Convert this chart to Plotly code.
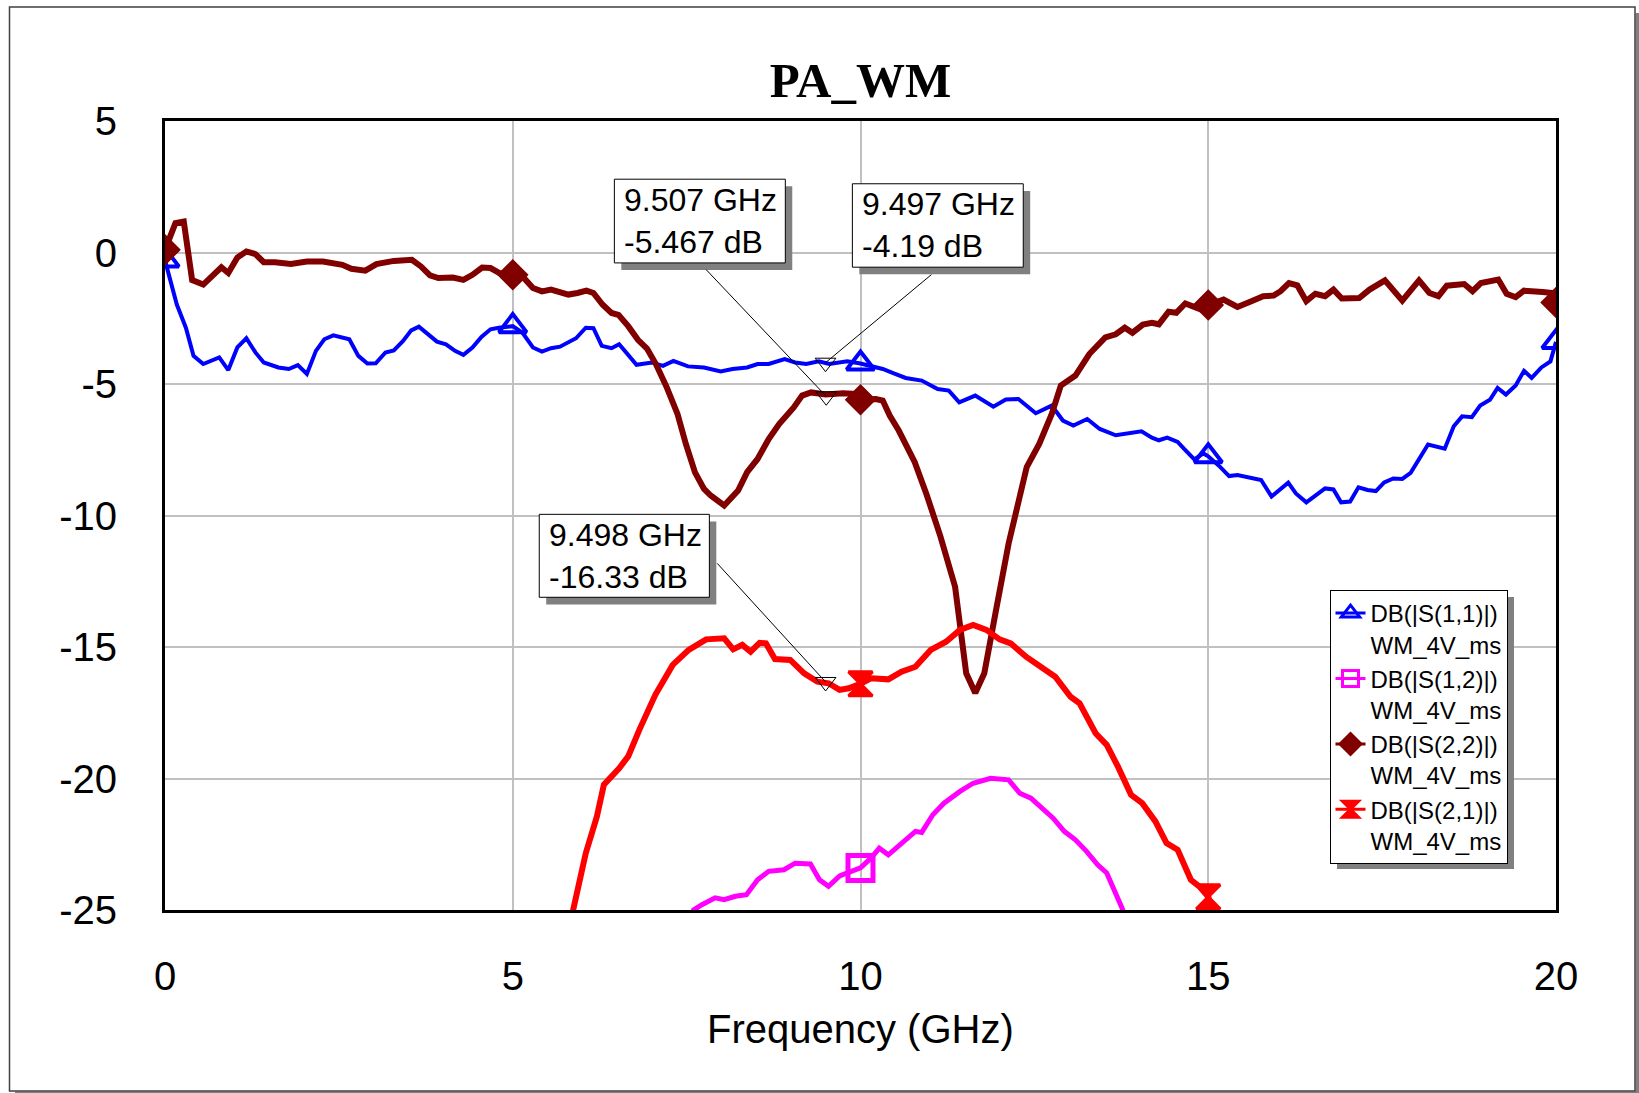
import plotly.graph_objects as go

# ---------------- data ----------------
s11_f = [0.0, 0.17, 0.30, 0.41, 0.55, 0.78, 0.91, 1.04, 1.17, 1.30, 1.42, 1.63, 1.78, 1.91, 2.04, 2.17, 2.29, 2.42,
         2.65, 2.78, 2.91, 3.03, 3.17, 3.29, 3.42, 3.54, 3.65, 3.78, 3.91, 4.04, 4.17, 4.29, 4.42, 4.55, 4.68, 4.80,
         5.0, 5.14, 5.29, 5.42, 5.55, 5.68, 5.91, 6.05, 6.16, 6.28, 6.42, 6.53, 6.66, 6.78, 7.0, 7.16, 7.31, 7.52,
         7.75, 7.99, 8.16, 8.37, 8.52, 8.68, 8.91, 9.06, 9.22, 9.40, 9.55, 9.81, 10.0, 10.32, 10.47, 10.65, 10.88,
         11.11, 11.27, 11.42, 11.65, 11.91, 12.09, 12.27, 12.52, 12.75, 12.91, 13.06, 13.26, 13.44, 13.67, 13.91,
         14.04, 14.19, 14.29, 14.41, 14.56, 14.65, 14.80, 14.93, 15.0, 15.17, 15.30, 15.42, 15.57, 15.76, 15.91,
         16.15, 16.26, 16.41, 16.68, 16.80, 16.91, 17.04, 17.16, 17.29, 17.41, 17.53, 17.66, 17.79, 17.91, 18.16,
         18.40, 18.53, 18.65, 18.79, 18.91, 19.05, 19.16, 19.28, 19.42, 19.54, 19.65, 19.79, 19.92, 20.0]
s11_db = [-0.3, -1.98, -2.86, -3.93, -4.24, -3.99, -4.47, -3.61, -3.26, -3.80, -4.18, -4.37, -4.43, -4.28, -4.62,
          -3.74, -3.30, -3.15, -3.30, -3.93, -4.22, -4.21, -3.80, -3.72, -3.37, -2.96, -2.82, -3.11, -3.39, -3.49,
          -3.74, -3.89, -3.61, -3.21, -2.92, -2.86, -2.80, -3.05, -3.61, -3.77, -3.64, -3.58, -3.26, -2.86, -2.88,
          -3.55, -3.64, -3.49, -3.89, -4.27, -4.18, -4.31, -4.12, -4.33, -4.37, -4.52, -4.43, -4.37, -4.24, -4.24,
          -4.05, -4.18, -4.24, -4.14, -4.24, -4.14, -4.22, -4.43, -4.59, -4.77, -4.87, -5.19, -5.25, -5.70, -5.44,
          -5.86, -5.59, -5.57, -6.11, -5.82, -6.39, -6.58, -6.33, -6.71, -6.95, -6.86, -6.80, -7.04, -7.14, -7.04,
          -7.20, -7.46, -7.87, -7.64, -7.75, -8.15, -8.50, -8.46, -8.56, -8.65, -9.28, -8.75, -9.16, -9.50, -8.97,
          -9.01, -9.50, -9.47, -8.93, -9.03, -9.07, -8.74, -8.59, -8.61, -8.38, -7.30, -7.46, -6.61, -6.23, -6.26,
          -5.82, -5.60, -5.15, -5.40, -5.06, -4.50, -4.77, -4.37, -4.14, -3.40]

s22_f = [0.0, 0.15, 0.27, 0.39, 0.55, 0.68, 0.81, 0.91, 1.04, 1.17, 1.30, 1.42, 1.58, 1.81, 2.04, 2.27, 2.55, 2.68,
         2.88, 3.04, 3.29, 3.55, 3.68, 3.81, 3.93, 4.14, 4.29, 4.42, 4.56, 4.68, 4.81, 5.0, 5.16, 5.29, 5.42, 5.55,
         5.68, 5.80, 5.93, 6.06, 6.16, 6.29, 6.42, 6.52, 6.66, 6.80, 6.93, 7.06, 7.21, 7.37, 7.49, 7.62, 7.75, 7.85,
         8.04, 8.24, 8.37, 8.52, 8.68, 8.83, 9.04, 9.16, 9.29, 9.50, 9.75, 9.93, 10.0, 10.22, 10.32, 10.42, 10.55,
         10.78, 10.95, 11.15, 11.36, 11.52, 11.65, 11.78, 11.94, 12.13, 12.39, 12.57, 12.75, 12.88, 13.09, 13.29,
         13.52, 13.67, 13.80, 13.91, 14.06, 14.19, 14.29, 14.43, 14.54, 14.67, 14.90, 15.0, 15.22, 15.42, 15.62,
         15.79, 15.94, 16.04, 16.16, 16.28, 16.41, 16.54, 16.68, 16.80, 16.92, 17.17, 17.32, 17.54, 17.79, 18.03,
         18.18, 18.31, 18.43, 18.68, 18.80, 18.92, 19.17, 19.29, 19.42, 19.54, 19.81, 19.95, 20.0]
s22_db = [0.1, 1.12, 1.18, -1.05, -1.22, -0.91, -0.56, -0.78, -0.19, 0.04, -0.06, -0.37, -0.37, -0.44, -0.34, -0.34,
          -0.47, -0.62, -0.69, -0.44, -0.32, -0.28, -0.53, -0.87, -0.97, -0.95, -1.04, -0.85, -0.57, -0.59, -0.78,
          -0.85, -0.97, -1.35, -1.48, -1.41, -1.54, -1.60, -1.54, -1.45, -1.54, -1.98, -2.30, -2.37, -2.80, -3.32,
          -3.65, -4.25, -5.10, -6.15, -7.29, -8.36, -8.99, -9.25, -9.62, -9.05, -8.35, -7.85, -7.09, -6.52, -5.89,
          -5.44, -5.32, -5.40, -5.35, -5.38, -5.60, -5.57, -5.63, -6.20, -6.77, -7.97, -9.20, -10.80, -12.71,
          -16.00, -16.75, -16.00, -13.72, -11.06, -8.16, -7.28, -6.14, -5.06, -4.68, -3.86, -3.23, -3.11, -2.86,
          -3.05, -2.74, -2.67, -2.73, -2.25, -2.29, -1.94, -2.17, -2.00, -1.79, -2.07, -1.85, -1.66, -1.64, -1.47,
          -1.16, -1.25, -1.85, -1.57, -1.66, -1.41, -1.75, -1.73, -1.41, -1.06, -1.83, -1.06, -1.54, -1.66, -1.26,
          -1.20, -1.47, -1.16, -1.03, -1.57, -1.70, -1.45, -1.50, -1.54, -1.90]

s21_f = [5.70, 5.86, 6.05, 6.21, 6.31, 6.53, 6.66, 6.82, 7.05, 7.30, 7.53, 7.78, 8.04, 8.17, 8.30, 8.42, 8.55, 8.64,
         8.77, 8.99, 9.19, 9.38, 9.54, 9.70, 9.83, 10.0, 10.15, 10.40, 10.59, 10.79, 11.01, 11.23, 11.43, 11.62,
         11.81, 12.0, 12.16, 12.38, 12.61, 12.80, 13.02, 13.15, 13.38, 13.54, 13.70, 13.89, 14.05, 14.24, 14.40,
         14.56, 14.75, 14.87, 15.0, 15.2]
s21_db = [-27.0, -25.1, -22.84, -21.44, -20.24, -19.61, -19.16, -18.15, -16.82, -15.68, -15.11, -14.71, -14.67,
          -15.09, -14.92, -15.18, -14.84, -14.86, -15.46, -15.49, -16.00, -16.32, -16.38, -16.63, -16.57, -16.40,
          -16.19, -16.23, -15.94, -15.75, -15.11, -14.80, -14.35, -14.16, -14.35, -14.71, -14.86, -15.37, -15.75,
          -16.13, -16.89, -17.14, -18.28, -18.72, -19.54, -20.62, -20.94, -21.63, -22.46, -22.71, -23.85, -24.10,
          -24.50, -26.0]

s12_f = [7.45, 7.60, 7.72, 7.91, 8.04, 8.20, 8.36, 8.52, 8.68, 8.90, 9.06, 9.28, 9.41, 9.54, 9.70, 9.89, 10.0,
         10.15, 10.27, 10.40, 10.63, 10.79, 10.88, 11.04, 11.20, 11.43, 11.62, 11.87, 12.13, 12.29, 12.45, 12.61,
         12.77, 12.93, 13.09, 13.25, 13.41, 13.54, 13.76, 13.90]
s12_db = [-26.0, -25.0, -24.80, -24.54, -24.61, -24.48, -24.42, -23.85, -23.53, -23.47, -23.22, -23.25, -23.85,
          -24.10, -23.70, -23.53, -23.40, -23.03, -22.65, -22.90, -22.39, -22.01, -22.05, -21.38, -20.94, -20.49,
          -20.18, -19.99, -20.05, -20.56, -20.75, -21.13, -21.51, -22.01, -22.33, -22.77, -23.28, -23.59, -24.92,
          -26.0]

marker_freqs = [0.0, 5.0, 10.0, 15.0, 20.0]

# marker readouts (callouts)
mk_f = [9.507, 9.497, 9.498]
mk_db = [-5.467, -4.19, -16.33]

x_ticks = [0, 5, 10, 15, 20]
y_ticks = [5, 0, -5, -10, -15, -20, -25]

series_names = ["DB(|S(1,1)|)<br>WM_4V_ms", "DB(|S(1,2)|)<br>WM_4V_ms",
                "DB(|S(2,2)|)<br>WM_4V_ms", "DB(|S(2,1)|)<br>WM_4V_ms"]

# ---------------- styling ----------------
FONT = "Arial, Liberation Sans, sans-serif"
series = [  # x, y, colour, line width, marker symbol, marker size, marker line width
    (s11_f, s11_db, "#0000ff", 4, "triangle-up-open", 24, 4),
    (s12_f, s12_db, "#ff00ff", 5, "square-open", 25, 5),
    (s22_f, s22_db, "#800000", 6, "diamond", 21, 3),
    (s21_f, s21_db, "#ff0000", 6, "hourglass", 24, 3),
]

fig = go.Figure()

for (f, v, col, lw, sym, msz, mlw), name in zip(series, series_names):
    fig.add_trace(go.Scatter(x=f, y=v, mode="lines", line=dict(color=col, width=lw),
                             showlegend=False, hoverinfo="skip"))
    mx = [a for a in f if a in marker_freqs]
    my = [b for a, b in zip(f, v) if a in marker_freqs]
    fig.add_trace(go.Scatter(x=mx, y=my, mode="markers", showlegend=False,
                             marker=dict(symbol=sym, size=msz, color=col,
                                         line=dict(color=col, width=mlw))))
    # legend entry
    fig.add_trace(go.Scatter(x=[None], y=[None], mode="lines+markers", name=name,
                             line=dict(color=col, width=3),
                             marker=dict(symbol=sym, size=16, color=col, line=dict(color=col, width=3))))

fig.add_trace(go.Scatter(x=mk_f, y=mk_db, mode="markers", showlegend=False,
                         marker=dict(symbol="triangle-down-open", size=18, color="black",
                                     line=dict(color="black", width=1))))

# ---------------- callout boxes ----------------
boxes = [  # x0, x1, y0, y1, leader start x, leader start y
    (6.461, 8.919, -0.396, 2.787, 7.78, -0.65),
    (9.883, 12.34, -0.559, 2.613, 11.02, -0.84),
    (5.381, 7.827, -13.11, -9.956, 7.94, -11.82),
]
dx_sh, dy_sh = 0.10, 0.27
shapes = []
annotations = []
for (x0, x1, y0, y1, lx, ly), f, v in zip(boxes, mk_f, mk_db):
    shapes.append(dict(type="rect", xref="x", yref="y", x0=x0 + dx_sh, x1=x1 + dx_sh, y0=y0 - dy_sh, y1=y1 - dy_sh,
                       fillcolor="#808080", line=dict(width=0), layer="above"))
    shapes.append(dict(type="rect", xref="x", yref="y", x0=x0, x1=x1, y0=y0, y1=y1,
                       fillcolor="white", line=dict(color="black", width=1), layer="above"))
    shapes.append(dict(type="line", xref="x", yref="y", x0=lx, y0=ly, x1=f, y1=v,
                       line=dict(color="black", width=1), layer="above"))
    annotations.append(dict(x=x0 + 0.11, y=(y0 + y1) / 2, xref="x", yref="y", xanchor="left", yanchor="middle",
                            align="left", showarrow=False, text=f"{f:g} GHz<br>{v:g} dB",
                            font=dict(family=FONT, size=32, color="black")))

# outer frame + shadow (paper coordinates; plot area ~163..1557 x 119..911 px)
L, T, R, B = 165, 121, 83, 183
PW, PH = 1639 - L - R, 1093 - T - B


def px(xp):
    return (xp - L) / PW


def py(yp):
    return (1093 - B - yp) / PH


shapes.append(dict(type="rect", xref="paper", yref="paper", x0=px(1635.5), x1=px(1640), y0=py(1095), y1=py(13),
                   fillcolor="#808080", line=dict(width=0), layer="below"))
shapes.append(dict(type="rect", xref="paper", yref="paper", x0=px(15), x1=px(1640), y0=py(1095), y1=py(1091.5),
                   fillcolor="#808080", line=dict(width=0), layer="below"))
shapes.append(dict(type="rect", xref="paper", yref="paper", x0=px(9.5), x1=px(1635), y0=py(1091), y1=py(7),
                   fillcolor="rgba(0,0,0,0)", line=dict(color="#404040", width=1.5), layer="below"))
# legend shadow
shapes.append(dict(type="rect", xref="paper", yref="paper", x0=px(1337), x1=px(1514), y0=py(869), y1=py(597),
                   fillcolor="#808080", line=dict(width=0), layer="above"))

annotations.append(dict(x=0.5, y=py(1029), xref="paper", yref="paper", xanchor="center", yanchor="middle",
                        showarrow=False, text="Frequency (GHz)", font=dict(family=FONT, size=40, color="black")))

fig.update_layout(
    width=1639, height=1093,
    margin=dict(l=L, r=R, t=T, b=B),
    paper_bgcolor="white", plot_bgcolor="white",
    title=dict(text="<b>PA_WM</b>", x=0.5, xref="paper", xanchor="center",
               y=1 - 80 / 1093, yref="container", yanchor="middle",
               font=dict(family="Times New Roman, Liberation Serif, serif", size=49, color="black")),
    xaxis=dict(range=[0, 20], tickvals=x_ticks, ticktext=[str(t) for t in x_ticks],
               showgrid=True, gridcolor="#c0c0c0", gridwidth=2, zeroline=False,
               showline=True, linecolor="black", linewidth=3, mirror=True,
               ticks="outside", ticklen=29, tickcolor="rgba(0,0,0,0)",
               tickfont=dict(family=FONT, size=40, color="black")),
    yaxis=dict(range=[-25, 5], tickvals=y_ticks, ticktext=[str(t) for t in y_ticks],
               showgrid=True, gridcolor="#c0c0c0", gridwidth=2, zeroline=False,
               showline=True, linecolor="black", linewidth=3, mirror=True,
               ticks="outside", ticklen=37, tickcolor="rgba(0,0,0,0)",
               tickfont=dict(family=FONT, size=40, color="black")),
    legend=dict(x=px(1329.5), y=py(590), xanchor="left", yanchor="top",
                bgcolor="white", bordercolor="black", borderwidth=1,
                font=dict(family=FONT, size=24, color="black"),
                itemwidth=30, valign="top", tracegroupgap=0),
    shapes=shapes,
    annotations=annotations,
)

fig.write_html("out.html")
